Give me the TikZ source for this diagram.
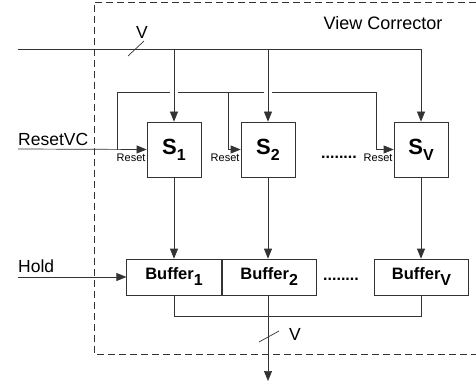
\documentclass[tikz,border=0pt]{standalone}
\usepackage{fontspec}
\setmainfont{Liberation Sans}
\usetikzlibrary{arrows.meta}

\newcommand{\fsz}[1]{\fontsize{#1}{#1}\selectfont}
\newcommand{\sub}[1]{\raisebox{-6pt}{\fsz{16}#1}}

\begin{document}
\begin{tikzpicture}[x=1pt,y=-1pt,
    wire/.style={line width=0.7pt,draw=black!80},
    arr/.style={wire,-{Triangle[length=10pt,width=8pt]}},
    sbox/.style={wire,minimum width=54pt,minimum height=55pt,inner sep=0pt,
      font=\bfseries\fsz{22}},
    bufbox/.style={wire,minimum width=94.5pt,minimum height=36pt,inner sep=0pt,
      font=\bfseries\fsz{16.5}},
    lbl/.style={inner sep=0pt,font=\fsz{17.5}},
    rst/.style={inner sep=1pt,font=\fsz{11}},
    dots/.style={inner sep=0pt,font=\bfseries\fsz{16}}]
  \useasboundingbox (0,0) rectangle (476,385);

  % view corrector frame
  \draw[wire,dash pattern=on 7pt off 4pt] (476,2) -- (94,2) -- (94,354) -- (476,354);
  \node[lbl,anchor=base,font=\fsz{18}] (title) at (383,30) {View Corrector};

  % state registers
  \node[sbox] (s1) at (174,149.5) {S\sub{1}};
  \node[sbox] (s2) at (268,149.5) {S\sub{2}};
  \node[sbox] (sv) at (421,149.5) {S\sub{V}};
  \node[rst,below left,yshift=-3pt] (r1) at (s1.west) {Reset};
  \node[rst,below left,yshift=-3pt] (r2) at (s2.west) {Reset};
  \node[rst,below left,yshift=-3pt] (rv) at (sv.west) {Reset};
  \node[dots] (sdots) at (339,157) {........};

  % buffers
  \node[bufbox] (b1) at (174,277) {Buffer\sub{1}};
  \node[bufbox,anchor=west] (b2) at (b1.east) {Buffer\sub{2}};
  \node[bufbox] (bv) at (421.5,277) {Buffer\sub{V}};
  \node[dots] (bdots) at (341,279) {........};

  % input bus
  \coordinate (vin) at (18,49);
  \coordinate (vend) at (421,49);
  \draw[wire] (vin) -- (vend);
  \draw[arr] (vend) -- (sv.north);
  \draw[arr] (s1.north |- vin) -- (s1.north);
  \draw[arr] (s2.north |- vin) -- (s2.north);
  \draw[wire] (128,56) -- (144,41);
  \node[lbl] (vtop) at (142,32) {V};

  % reset lines
  \coordinate (rvc) at (18,149);
  \coordinate (ra) at (117,92);
  \coordinate (rb) at (228,92);
  \coordinate (rc) at (376,92);
  \node[lbl,anchor=base west] (resetvc) at (18,146) {ResetVC};
  \draw[arr] (rvc) -- (s1.west);
  \draw[wire] (ra |- s1.west) -- (ra) -- ([xshift=-4pt]s1.north |- ra);
  \draw[wire] ([xshift=4pt]s1.north |- ra) -- ([xshift=-4pt]s2.north |- ra);
  \draw[wire] ([xshift=4pt]s2.north |- ra) -- (rc);
  \draw[arr] (rb) -- (rb |- s2.west) -- (s2.west);
  \draw[arr] (rc) -- (rc |- sv.west) -- (sv.west);

  % register to buffer
  \draw[arr] (s1) -- (b1);
  \draw[arr] (s2.south) -- (s2.south |- b2.north);
  \draw[arr] (sv.south) -- (sv.south |- bv.north);

  % hold
  \coordinate (hold) at (18,277);
  \node[lbl,anchor=base west] (holdlbl) at (18,272) {Hold};
  \draw[arr] (hold) -- (b1.west);

  % output bus
  \coordinate (bus) at (174,316);
  \coordinate (vout) at (268,381);
  \draw[wire] (b1.south) -- (bus) -- (bus -| bv.south) -- (bv.south);
  \draw[arr] (b2.south -| vout) -- (vout);
  \draw[wire] (259,342) -- (279,331);
  \node[lbl] (vbot) at (295,334) {V};
\end{tikzpicture}
\end{document}
